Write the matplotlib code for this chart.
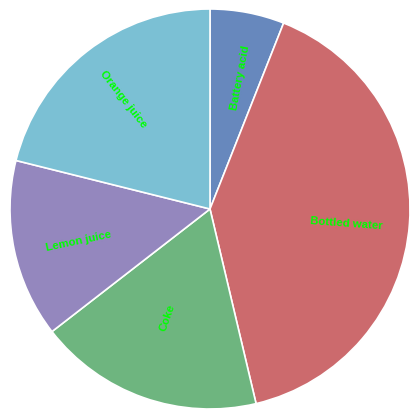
import matplotlib
matplotlib.use("Agg")
from matplotlib import pyplot as plt

# drink shares (percent)
drinks = ["Battery acid", "Bottled water", "Coke", "Lemon juice", "Orange juice"]
shares = [6.0, 40.3, 18.2, 14.4, 21.1]
colors = ["#6788bd", "#cc6a6d", "#6eb57f", "#9487be", "#7bc0d4"]

fig = plt.figure(figsize=(4.2, 4.2), dpi=100)
ax = fig.add_axes([0, 0, 1, 1])

# labels start at half the radius and run outwards
wedges, texts = ax.pie(shares, labels=drinks, colors=colors, startangle=90,
                       counterclock=False, labeldistance=0.5, rotatelabels=True,
                       wedgeprops=dict(edgecolor="white", linewidth=1.2))
for t in texts:
    t.set_color("#00ff00")
    t.set_fontsize(8.2)
    t.set_fontweight("bold")
    t.set_family(["Liberation Sans", "DejaVu Sans"])

ax.set_xlim(-1.05, 1.05)
ax.set_ylim(-1.055, 1.045)
ax.set_aspect("equal")
ax.axis("off")

fig.savefig("out.png", dpi=100)
